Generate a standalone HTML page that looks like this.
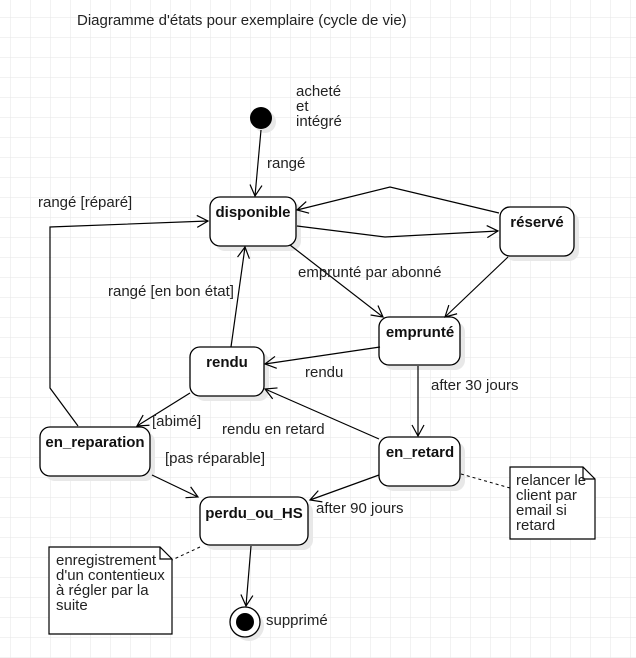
<!DOCTYPE html>
<html><head><meta charset="utf-8"><style>
html,body{margin:0;padding:0;background:#fff}
svg{display:block}
text{font-family:"Liberation Sans",Arial,sans-serif;font-size:15px;fill:#222}
.b{font-weight:bold;fill:#111}
</style></head><body>
<svg width="636" height="658" viewBox="0 0 636 658" xmlns="http://www.w3.org/2000/svg">
<defs>
<pattern id="g" x="10" y="17" width="20" height="20" patternUnits="userSpaceOnUse">
<path d="M0 0H20M0 0V20" stroke="#e6e6e6" stroke-width="1" fill="none"/>
</pattern>
<marker id="a" markerWidth="14" markerHeight="14" refX="12" refY="7" orient="auto" markerUnits="userSpaceOnUse">
<path d="M1 1L12 7L1 13" fill="none" stroke="#000" stroke-width="1.2"/>
</marker>
</defs>
<rect width="636" height="658" fill="url(#g)"/>
<text x="77" y="25">Diagramme d'états pour exemplaire (cycle de vie)</text>

<g fill="#e8e8e8">
<circle cx="265" cy="122" r="11"/>
<rect x="215" y="202" width="86" height="49" rx="10"/>
<rect x="505" y="212" width="74" height="49" rx="10"/>
<rect x="384" y="322" width="81" height="48" rx="10"/>
<rect x="195" y="352" width="74" height="49" rx="10"/>
<rect x="45" y="432" width="110" height="49" rx="10"/>
<rect x="384" y="442" width="81" height="49" rx="10"/>
<rect x="205" y="502" width="108" height="48" rx="10"/>
<circle cx="249" cy="626" r="15"/>
</g>

<circle cx="261" cy="118" r="11" fill="#000"/>
<g fill="#fff" stroke="#000" stroke-width="1.3">
<rect x="210" y="197" width="86" height="49" rx="10"/>
<rect x="500" y="207" width="74" height="49" rx="10"/>
<rect x="379" y="317" width="81" height="48" rx="10"/>
<rect x="190" y="347" width="74" height="49" rx="10"/>
<rect x="40" y="427" width="110" height="49" rx="10"/>
<rect x="379" y="437" width="81" height="49" rx="10"/>
<rect x="200" y="497" width="108" height="48" rx="10"/>
<circle cx="245" cy="622" r="15"/>
</g>
<circle cx="245" cy="622" r="9" fill="#000"/>
<text class="b" x="253" y="217" text-anchor="middle">disponible</text>
<text class="b" x="537" y="227" text-anchor="middle">réservé</text>
<text class="b" x="420" y="337" text-anchor="middle">emprunté</text>
<text class="b" x="227" y="367" text-anchor="middle">rendu</text>
<text class="b" x="95" y="447" text-anchor="middle">en_reparation</text>
<text class="b" x="420" y="457" text-anchor="middle">en_retard</text>
<text class="b" x="254" y="518" text-anchor="middle">perdu_ou_HS</text>

<g fill="#fff" stroke="#000" stroke-width="1.2">
<path d="M510 467H583L595 479V539H510Z"/>
<path d="M583 467V479H595" fill="none"/>
<path d="M49 547H160L172 559V634H49Z"/>
<path d="M160 547V559H172" fill="none"/>
</g>
<text x="516" y="485">relancer le</text>
<text x="516" y="500">client par</text>
<text x="516" y="515">email si</text>
<text x="516" y="530">retard</text>
<text x="56" y="565">enregistrement</text>
<text x="56" y="580">d'un contentieux</text>
<text x="56" y="595">à régler par la</text>
<text x="56" y="610">suite</text>
<g stroke="#000" stroke-dasharray="3,3" fill="none">
<path d="M461 474L510 488"/>
<path d="M200 547L172 560"/>
</g>

<g stroke="#000" stroke-width="1.2" fill="none" marker-end="url(#a)">
<path d="M261 130L255 196"/>
<path d="M297 226L385 237L498 231"/>
<path d="M499 213L390 187L297 210"/>
<path d="M290 245L383 317"/>
<path d="M508 257L445 317"/>
<path d="M380 347L265 364"/>
<path d="M418 366L418 436"/>
<path d="M231 347L245 247"/>
<path d="M190 393L137 426"/>
<path d="M379 439L265 389"/>
<path d="M78 426L50 388L50 227L208 221"/>
<path d="M152 475L198 497"/>
<path d="M379 475L310 500"/>
<path d="M251 546L246 606"/>
</g>

<text x="296" y="96">acheté</text>
<text x="296" y="111">et</text>
<text x="296" y="126">intégré</text>
<text x="267" y="168">rangé</text>
<text x="38" y="207">rangé [réparé]</text>
<text x="298" y="277">emprunté par abonné</text>
<text x="108" y="296">rangé [en bon état]</text>
<text x="305" y="377">rendu</text>
<text x="431" y="390">after 30 jours</text>
<text x="152" y="426">[abimé]</text>
<text x="222" y="434">rendu en retard</text>
<text x="165" y="463">[pas réparable]</text>
<text x="316" y="513">after 90 jours</text>
<text x="266" y="625">supprimé</text>
</svg>
</body></html>
